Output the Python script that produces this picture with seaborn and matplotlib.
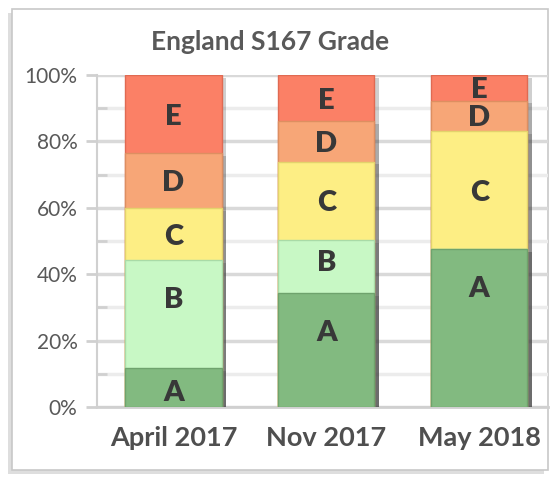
import numpy as np
import pandas as pd
import matplotlib
matplotlib.use("Agg")
import matplotlib.pyplot as plt
import matplotlib.patheffects as pe
from matplotlib.patches import Rectangle
from matplotlib.ticker import MultipleLocator, PercentFormatter
import seaborn as sns

# ---- data ----
periods = ["April 2017", "Nov 2017", "May 2018"]
grades = ["A", "B", "C", "D", "E"]
grade_A = [11.7, 34.2, 47.5]
grade_B = [32.6, 16.1, 0.0]
grade_C = [15.5, 23.6, 35.6]
grade_D = [16.6, 12.2, 9.2]
grade_E = [23.6, 13.9, 7.7]
title = "England S167 Grade"

# style
colors = {"A": "#82ba80", "B": "#c8f8c5", "C": "#fdee84", "D": "#f7a677", "E": "#fb8066"}
edge = {"A": "#6fa36d", "B": "#a9dba7", "C": "#e3d36c", "D": "#dd8f61", "E": "#e06a52"}
label_shift = {("April 2017", "B"): 5.0, ("Nov 2017", "A"): 6.0,
               ("Nov 2017", "B"): 2.0, ("May 2018", "A"): 12.4,
               ("April 2017", "A"): -1.0}

sns.set_theme(style="white")
plt.rcParams["font.family"] = ["Lato", "DejaVu Sans"]

values = {"A": grade_A, "B": grade_B, "C": grade_C, "D": grade_D, "E": grade_E}
df = pd.DataFrame({"period": periods, **values})
cum = df[grades].cumsum(axis=1)

fig = plt.figure(figsize=(5.56, 4.82), dpi=100)
fig.patch.set_facecolor("white")

# outer chart frame with shadow
frame = Rectangle((12 / 556, 1 - 470 / 482), 536 / 556, 461 / 482,
                  transform=fig.transFigure, facecolor="white",
                  edgecolor="#c8c8c8", lw=1.2, zorder=0,
                  path_effects=[pe.SimplePatchShadow(offset=(-3, -3), alpha=0.25,
                                                     shadow_rgbFace="#7f7f7f"),
                                pe.Normal()])
fig.patches.append(frame)

ax = fig.add_axes([97 / 556, 1 - 407 / 482, (548 - 97) / 556, (407 - 75) / 482])
ax.set_zorder(2)
ax.set_facecolor("none")

# stacked bars: draw cumulative totals from top segment down
for g in reversed(grades):
    sub = pd.DataFrame({"period": periods, "val": cum[g].values})
    sns.barplot(data=sub, x="period", y="val", order=periods, color=colors[g],
                width=0.63, saturation=1, ax=ax, zorder=3,
                edgecolor=edge[g], linewidth=1.0)

# shadows for bars
for p in ax.patches:
    p.set_path_effects([pe.SimplePatchShadow(offset=(3, -2), alpha=0.25,
                                             shadow_rgbFace="#404040"),
                        pe.Normal()])

# labels
for i, per in enumerate(periods):
    bottom = 0.0
    for g in grades:
        v = values[g][i]
        if v > 0:
            y = bottom + v / 2 + label_shift.get((per, g), 0.0)
            ax.text(i, y, g, ha="center", va="center_baseline", fontsize=21,
                    fontweight="heavy", color="#383838", zorder=5)
        bottom += v

ax.set_ylim(0, 100)
ax.set_xlim(-0.5, 2.45)
ax.yaxis.set_major_locator(MultipleLocator(20))
ax.yaxis.set_minor_locator(MultipleLocator(10))
ax.yaxis.set_major_formatter(PercentFormatter(decimals=0))
ax.grid(axis="y", which="major", color="#d9d9d9", lw=2.5, zorder=0)
ax.grid(axis="y", which="minor", color="#ececec", lw=2.5, zorder=0)
ax.set_axisbelow(True)
for s in ["top", "right"]:
    ax.spines[s].set_visible(False)
ax.spines["left"].set_color("#d0d0d0")
ax.spines["left"].set_linewidth(1.5)
ax.spines["bottom"].set_color("#d0d0d0")
ax.spines["bottom"].set_linewidth(2)
ax.tick_params(axis="y", which="major", left=True, direction="out", length=8,
               width=2, color="#d0d0d0", labelsize=15, labelcolor="#595959", pad=6)
ax.tick_params(axis="y", which="minor", left=True, direction="in", length=7,
               width=2, color="#d0d0d0")
ax.tick_params(axis="x", bottom=False, labelsize=19.5, labelcolor="#4f4f4f", pad=8)
for t in ax.get_xticklabels():
    t.set_fontweight("bold")
ax.set_xlabel("")
ax.set_ylabel("")

fig.text(270 / 556, 1 - 42 / 482, title, ha="center", va="center", fontsize=19,
         fontweight="bold", color="#595959")

fig.savefig("out.png", dpi=100)
